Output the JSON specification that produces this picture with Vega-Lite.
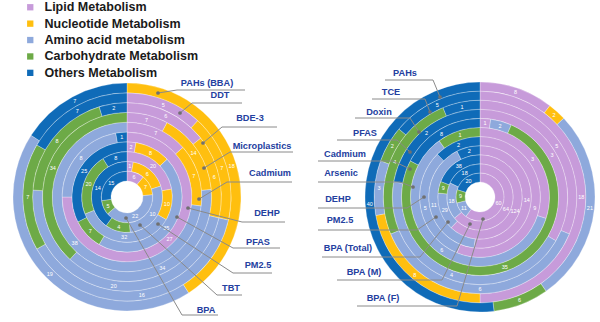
{
  "$schema": "https://vega.github.io/schema/vega-lite/v6.json",
  "width": 600,
  "height": 322,
  "padding": 0,
  "autosize": {"type": "none"},
  "background": "white",
  "config": {"view": {"stroke": null}, "font": "Liberation Sans"},
  "datasets": {
    "rings": [
      {"chart": "L", "ring": 1, "chem": "BPA", "cat": "Lipid Metabolism", "value": 6},
      {"chart": "L", "ring": 1, "chem": "BPA", "cat": "Nucleotide Metabolism", "value": 7},
      {"chart": "L", "ring": 1, "chem": "BPA", "cat": "Amino acid metabolism", "value": 22},
      {"chart": "L", "ring": 1, "chem": "BPA", "cat": "Carbohydrate Metabolism", "value": 5},
      {"chart": "L", "ring": 1, "chem": "BPA", "cat": "Others Metabolism", "value": 15},
      {"chart": "L", "ring": 2, "chem": "TBT", "cat": "Lipid Metabolism", "value": 1},
      {"chart": "L", "ring": 2, "chem": "TBT", "cat": "Nucleotide Metabolism", "value": 6},
      {"chart": "L", "ring": 2, "chem": "TBT", "cat": "Amino acid metabolism", "value": 10},
      {"chart": "L", "ring": 2, "chem": "TBT", "cat": "Carbohydrate Metabolism", "value": 4},
      {"chart": "L", "ring": 2, "chem": "TBT", "cat": "Others Metabolism", "value": 14},
      {"chart": "L", "ring": 3, "chem": "PM2.5", "cat": "Lipid Metabolism", "value": 20},
      {"chart": "L", "ring": 3, "chem": "PM2.5", "cat": "Nucleotide Metabolism", "value": 10},
      {"chart": "L", "ring": 3, "chem": "PM2.5", "cat": "Amino acid metabolism", "value": 32},
      {"chart": "L", "ring": 3, "chem": "PM2.5", "cat": "Carbohydrate Metabolism", "value": 20},
      {"chart": "L", "ring": 3, "chem": "PM2.5", "cat": "Others Metabolism", "value": 8},
      {"chart": "L", "ring": 4, "chem": "PFAS", "cat": "Lipid Metabolism", "value": 2},
      {"chart": "L", "ring": 4, "chem": "PFAS", "cat": "Nucleotide Metabolism", "value": 8},
      {"chart": "L", "ring": 4, "chem": "PFAS", "cat": "Amino acid metabolism", "value": 35},
      {"chart": "L", "ring": 4, "chem": "PFAS", "cat": "Carbohydrate Metabolism", "value": 7},
      {"chart": "L", "ring": 4, "chem": "PFAS", "cat": "Others Metabolism", "value": 25},
      {"chart": "L", "ring": 5, "chem": "DEHP", "cat": "Lipid Metabolism", "value": 27},
      {"chart": "L", "ring": 5, "chem": "DEHP", "cat": "Amino acid metabolism", "value": 8},
      {"chart": "L", "ring": 5, "chem": "DEHP", "cat": "Others Metabolism", "value": 1},
      {"chart": "L", "ring": 6, "chem": "Cadmium", "cat": "Lipid Metabolism", "value": 7},
      {"chart": "L", "ring": 6, "chem": "Cadmium", "cat": "Nucleotide Metabolism", "value": 7},
      {"chart": "L", "ring": 6, "chem": "Cadmium", "cat": "Amino acid metabolism", "value": 38},
      {"chart": "L", "ring": 7, "chem": "Microplastics", "cat": "Lipid Metabolism", "value": 7},
      {"chart": "L", "ring": 7, "chem": "Microplastics", "cat": "Nucleotide Metabolism", "value": 14},
      {"chart": "L", "ring": 7, "chem": "Microplastics", "cat": "Amino acid metabolism", "value": 34},
      {"chart": "L", "ring": 7, "chem": "Microplastics", "cat": "Carbohydrate Metabolism", "value": 34},
      {"chart": "L", "ring": 8, "chem": "BDE-3", "cat": "Lipid Metabolism", "value": 6},
      {"chart": "L", "ring": 8, "chem": "BDE-3", "cat": "Nucleotide Metabolism", "value": 6},
      {"chart": "L", "ring": 8, "chem": "BDE-3", "cat": "Amino acid metabolism", "value": 20},
      {"chart": "L", "ring": 8, "chem": "BDE-3", "cat": "Carbohydrate Metabolism", "value": 8},
      {"chart": "L", "ring": 8, "chem": "BDE-3", "cat": "Others Metabolism", "value": 2},
      {"chart": "L", "ring": 9, "chem": "DDT", "cat": "Lipid Metabolism", "value": 5},
      {"chart": "L", "ring": 9, "chem": "DDT", "cat": "Nucleotide Metabolism", "value": 7},
      {"chart": "L", "ring": 9, "chem": "DDT", "cat": "Amino acid metabolism", "value": 16},
      {"chart": "L", "ring": 9, "chem": "DDT", "cat": "Carbohydrate Metabolism", "value": 7},
      {"chart": "L", "ring": 9, "chem": "DDT", "cat": "Others Metabolism", "value": 7},
      {"chart": "L", "ring": 10, "chem": "PAHs (BBA)", "cat": "Nucleotide Metabolism", "value": 18},
      {"chart": "L", "ring": 10, "chem": "PAHs (BBA)", "cat": "Amino acid metabolism", "value": 19},
      {"chart": "L", "ring": 10, "chem": "PAHs (BBA)", "cat": "Others Metabolism", "value": 7},
      {"chart": "R", "ring": 1, "chem": "BPA (F)", "cat": "Lipid Metabolism", "value": 60},
      {"chart": "R", "ring": 1, "chem": "BPA (F)", "cat": "Amino acid metabolism", "value": 11},
      {"chart": "R", "ring": 1, "chem": "BPA (F)", "cat": "Carbohydrate Metabolism", "value": 9},
      {"chart": "R", "ring": 1, "chem": "BPA (F)", "cat": "Others Metabolism", "value": 20},
      {"chart": "R", "ring": 2, "chem": "BPA (M)", "cat": "Lipid Metabolism", "value": 64},
      {"chart": "R", "ring": 2, "chem": "BPA (M)", "cat": "Amino acid metabolism", "value": 18},
      {"chart": "R", "ring": 2, "chem": "BPA (M)", "cat": "Others Metabolism", "value": 18},
      {"chart": "R", "ring": 3, "chem": "BPA (Total)", "cat": "Lipid Metabolism", "value": 124},
      {"chart": "R", "ring": 3, "chem": "BPA (Total)", "cat": "Amino acid metabolism", "value": 29},
      {"chart": "R", "ring": 3, "chem": "BPA (Total)", "cat": "Carbohydrate Metabolism", "value": 9},
      {"chart": "R", "ring": 3, "chem": "BPA (Total)", "cat": "Others Metabolism", "value": 38},
      {"chart": "R", "ring": 4, "chem": "PM2.5", "cat": "Lipid Metabolism", "value": 14},
      {"chart": "R", "ring": 4, "chem": "PM2.5", "cat": "Amino acid metabolism", "value": 11},
      {"chart": "R", "ring": 4, "chem": "PM2.5", "cat": "Others Metabolism", "value": 2},
      {"chart": "R", "ring": 5, "chem": "DEHP", "cat": "Lipid Metabolism", "value": 9},
      {"chart": "R", "ring": 5, "chem": "DEHP", "cat": "Amino acid metabolism", "value": 5},
      {"chart": "R", "ring": 5, "chem": "DEHP", "cat": "Others Metabolism", "value": 2},
      {"chart": "R", "ring": 6, "chem": "Arsenic", "cat": "Lipid Metabolism", "value": 3},
      {"chart": "R", "ring": 6, "chem": "Arsenic", "cat": "Amino acid metabolism", "value": 6},
      {"chart": "R", "ring": 6, "chem": "Arsenic", "cat": "Carbohydrate Metabolism", "value": 1},
      {"chart": "R", "ring": 7, "chem": "Cadmium", "cat": "Lipid Metabolism", "value": 1},
      {"chart": "R", "ring": 7, "chem": "Cadmium", "cat": "Amino acid metabolism", "value": 2},
      {"chart": "R", "ring": 7, "chem": "Cadmium", "cat": "Carbohydrate Metabolism", "value": 35},
      {"chart": "R", "ring": 7, "chem": "Cadmium", "cat": "Others Metabolism", "value": 8},
      {"chart": "R", "ring": 8, "chem": "PFAS", "cat": "Lipid Metabolism", "value": 3},
      {"chart": "R", "ring": 8, "chem": "PFAS", "cat": "Amino acid metabolism", "value": 4},
      {"chart": "R", "ring": 8, "chem": "PFAS", "cat": "Others Metabolism", "value": 2},
      {"chart": "R", "ring": 9, "chem": "Doxin", "cat": "Lipid Metabolism", "value": 5},
      {"chart": "R", "ring": 9, "chem": "Doxin", "cat": "Amino acid metabolism", "value": 6},
      {"chart": "R", "ring": 9, "chem": "Doxin", "cat": "Carbohydrate Metabolism", "value": 4},
      {"chart": "R", "ring": 9, "chem": "Doxin", "cat": "Others Metabolism", "value": 1},
      {"chart": "R", "ring": 10, "chem": "TCE", "cat": "Lipid Metabolism", "value": 18},
      {"chart": "R", "ring": 10, "chem": "TCE", "cat": "Nucleotide Metabolism", "value": 8},
      {"chart": "R", "ring": 10, "chem": "TCE", "cat": "Amino acid metabolism", "value": 3},
      {"chart": "R", "ring": 10, "chem": "TCE", "cat": "Carbohydrate Metabolism", "value": 2},
      {"chart": "R", "ring": 10, "chem": "TCE", "cat": "Others Metabolism", "value": 5},
      {"chart": "R", "ring": 11, "chem": "PAHs", "cat": "Lipid Metabolism", "value": 8},
      {"chart": "R", "ring": 11, "chem": "PAHs", "cat": "Nucleotide Metabolism", "value": 2},
      {"chart": "R", "ring": 11, "chem": "PAHs", "cat": "Amino acid metabolism", "value": 21},
      {"chart": "R", "ring": 11, "chem": "PAHs", "cat": "Carbohydrate Metabolism", "value": 6},
      {"chart": "R", "ring": 11, "chem": "PAHs", "cat": "Others Metabolism", "value": 40}
    ],
    "ann": [
      {"chart": "L", "name": "PAHs (BBA)", "tx": 80, "ty": 114, "uy": 107, "ux1": 50, "ux2": 118, "dx": 31, "dy": 104},
      {"chart": "L", "name": "DDT", "tx": 93, "ty": 102, "uy": 94, "ux1": 65, "ux2": 115, "dx": 53, "dy": 84},
      {"chart": "L", "name": "BDE-3", "tx": 123, "ty": 79, "uy": 70, "ux1": 95, "ux2": 150, "dx": 76, "dy": 54},
      {"chart": "L", "name": "Microplastics", "tx": 135, "ty": 51, "uy": 45, "ux1": 103, "ux2": 166, "dx": 77, "dy": 29},
      {"chart": "L", "name": "Cadmium", "tx": 143, "ty": 24, "uy": 15, "ux1": 100, "ux2": 165, "dx": 72, "dy": -2},
      {"chart": "L", "name": "DEHP", "tx": 140, "ty": -16, "uy": -25, "ux1": 115, "ux2": 158, "dx": 61, "dy": -11},
      {"chart": "L", "name": "PFAS", "tx": 131, "ty": -45, "uy": -51, "ux1": 106, "ux2": 153, "dx": 50, "dy": -20},
      {"chart": "L", "name": "PM2.5", "tx": 131, "ty": -68, "uy": -76, "ux1": 106, "ux2": 145, "dx": 31, "dy": -27},
      {"chart": "L", "name": "TBT", "tx": 104, "ty": -91, "uy": -98, "ux1": 90, "ux2": 115, "dx": 13, "dy": -28},
      {"chart": "L", "name": "BPA", "tx": 79, "ty": -113, "uy": -118, "ux1": 55, "ux2": 91, "dx": -1, "dy": -21},
      {"chart": "R", "name": "PAHs", "tx": 278, "ty": 124, "uy": 117, "ux1": 258, "ux2": 306, "dx": 313, "dy": 100},
      {"chart": "R", "name": "TCE", "tx": 264, "ty": 105, "uy": 98, "ux1": 245, "ux2": 298, "dx": 303, "dy": 85},
      {"chart": "R", "name": "Doxin", "tx": 252, "ty": 85, "uy": 79, "ux1": 228, "ux2": 283, "dx": 292, "dy": 65},
      {"chart": "R", "name": "PFAS", "tx": 238, "ty": 64, "uy": 57, "ux1": 210, "ux2": 270, "dx": 283, "dy": 45},
      {"chart": "R", "name": "Cadmium", "tx": 218, "ty": 43, "uy": 36, "ux1": 191, "ux2": 266, "dx": 283, "dy": 28},
      {"chart": "R", "name": "Arsenic", "tx": 214, "ty": 24, "uy": 15, "ux1": 191, "ux2": 273, "dx": 286, "dy": 10},
      {"chart": "R", "name": "DEHP", "tx": 211, "ty": -2, "uy": -11, "ux1": 191, "ux2": 280, "dx": 297, "dy": 0},
      {"chart": "R", "name": "PM2.5", "tx": 213, "ty": -23, "uy": -33, "ux1": 191, "ux2": 290, "dx": 309, "dy": -20},
      {"chart": "R", "name": "BPA (Total)", "tx": 221, "ty": -51, "uy": -60, "ux1": 195, "ux2": 293, "dx": 321, "dy": -25},
      {"chart": "R", "name": "BPA (M)", "tx": 237, "ty": -75, "uy": -83, "ux1": 210, "ux2": 315, "dx": 343, "dy": -27},
      {"chart": "R", "name": "BPA (F)", "tx": 256, "ty": -101, "uy": -109, "ux1": 230, "ux2": 330, "dx": 356, "dy": -22}
    ]
  },
  "resolve": {"scale": {"radius": "independent", "theta": "independent"}},
  "layer": [
    {
      "data": {"name": "rings"},
      "transform": [
        {"filter": "datum.chart == 'L'"},
        {"calculate": "indexof(['Lipid Metabolism','Nucleotide Metabolism','Amino acid metabolism','Carbohydrate Metabolism','Others Metabolism'], datum.cat)", "as": "ord"},
        {"stack": "value", "groupby": ["ring"], "sort": [{"field": "ord", "order": "ascending"}], "offset": "normalize", "as": ["t0", "t1"]},
        {"calculate": "datum.ring - 1", "as": "r0"}
      ],
      "mark": {"type": "arc", "stroke": "white", "strokeWidth": 0.35, "strokeOpacity": 0.8},
      "encoding": {
        "x": {"datum": 0, "type": "quantitative", "scale": {"domain": [-127, 473], "nice": false, "zero": false}, "axis": null},
        "y": {"datum": 0, "type": "quantitative", "scale": {"domain": [-125, 197], "nice": false, "zero": false}, "axis": null},
        "theta": {"field": "t0", "type": "quantitative", "stack": null, "scale": {"domain": [0, 1], "range": [0, 6.283185307179586]}},
        "theta2": {"field": "t1"},
        "radius": {"field": "ring", "type": "quantitative", "scale": {"type": "linear", "domain": [0, 10], "range": [16, 114], "zero": false, "nice": false}},
        "radius2": {"field": "r0"},
        "color": {
          "field": "cat", "type": "nominal",
          "scale": {
            "domain": ["Lipid Metabolism", "Nucleotide Metabolism", "Amino acid metabolism", "Carbohydrate Metabolism", "Others Metabolism"],
            "range": ["#C79BDA", "#FFBF0F", "#8EA9DC", "#6DAA47", "#0F6BB8"]
          },
          "legend": {
            "title": null, "orient": "none", "legendX": 24, "legendY": 1, "padding": 0,
            "symbolType": "square", "symbolSize": 40, "symbolStrokeWidth": 0,
            "labelFont": "Liberation Sans", "labelFontSize": 12.5, "labelFontWeight": "bold",
            "labelColor": "#1a1a1a", "rowPadding": 3.4, "labelOffset": 8
          }
        }
      }
    },
    {
      "data": {"name": "rings"},
      "transform": [
        {"filter": "datum.chart == 'R'"},
        {"calculate": "indexof(['Lipid Metabolism','Nucleotide Metabolism','Amino acid metabolism','Carbohydrate Metabolism','Others Metabolism'], datum.cat)", "as": "ord"},
        {"stack": "value", "groupby": ["ring"], "sort": [{"field": "ord", "order": "ascending"}], "offset": "normalize", "as": ["t0", "t1"]},
        {"calculate": "datum.ring - 1", "as": "r0"}
      ],
      "mark": {"type": "arc", "stroke": "white", "strokeWidth": 0.35, "strokeOpacity": 0.8},
      "encoding": {
        "x": {"datum": 353, "type": "quantitative", "scale": {"domain": [-127, 473], "nice": false, "zero": false}, "axis": null},
        "y": {"datum": 0, "type": "quantitative", "scale": {"domain": [-125, 197], "nice": false, "zero": false}, "axis": null},
        "theta": {"field": "t0", "type": "quantitative", "stack": null, "scale": {"domain": [0, 1], "range": [0, 6.283185307179586]}},
        "theta2": {"field": "t1"},
        "radius": {"field": "ring", "type": "quantitative", "scale": {"type": "linear", "domain": [0, 11], "range": [15, 115], "zero": false, "nice": false}},
        "radius2": {"field": "r0"},
        "color": {"field": "cat", "type": "nominal"}
      }
    },
    {
      "data": {"name": "rings"},
      "transform": [
        {"filter": "datum.chart == 'L'"},
        {"calculate": "indexof(['Lipid Metabolism','Nucleotide Metabolism','Amino acid metabolism','Carbohydrate Metabolism','Others Metabolism'], datum.cat)", "as": "ord"},
        {"stack": "value", "groupby": ["ring"], "sort": [{"field": "ord", "order": "ascending"}], "offset": "normalize", "as": ["t0", "t1"]},
        {"calculate": "(datum.t0 + datum.t1) / 2", "as": "tm"},
        {"calculate": "datum.ring - 0.5", "as": "rm"}
      ],
      "mark": {"type": "text", "color": "white", "fontSize": 5.5, "align": "center", "baseline": "middle"},
      "encoding": {
        "x": {"datum": 0, "type": "quantitative", "scale": {"domain": [-127, 473], "nice": false, "zero": false}, "axis": null},
        "y": {"datum": 0, "type": "quantitative", "scale": {"domain": [-125, 197], "nice": false, "zero": false}, "axis": null},
        "theta": {"field": "tm", "type": "quantitative", "scale": {"domain": [0, 1], "range": [0, 6.283185307179586]}},
        "radius": {"field": "rm", "type": "quantitative", "scale": {"type": "linear", "domain": [0, 10], "range": [16, 114], "zero": false, "nice": false}},
        "text": {"field": "value", "type": "quantitative"}
      }
    },
    {
      "data": {"name": "rings"},
      "transform": [
        {"filter": "datum.chart == 'R'"},
        {"calculate": "indexof(['Lipid Metabolism','Nucleotide Metabolism','Amino acid metabolism','Carbohydrate Metabolism','Others Metabolism'], datum.cat)", "as": "ord"},
        {"stack": "value", "groupby": ["ring"], "sort": [{"field": "ord", "order": "ascending"}], "offset": "normalize", "as": ["t0", "t1"]},
        {"calculate": "(datum.t0 + datum.t1) / 2", "as": "tm"},
        {"calculate": "datum.ring - 0.5", "as": "rm"}
      ],
      "mark": {"type": "text", "color": "white", "fontSize": 5.5, "align": "center", "baseline": "middle"},
      "encoding": {
        "x": {"datum": 353, "type": "quantitative", "scale": {"domain": [-127, 473], "nice": false, "zero": false}, "axis": null},
        "y": {"datum": 0, "type": "quantitative", "scale": {"domain": [-125, 197], "nice": false, "zero": false}, "axis": null},
        "theta": {"field": "tm", "type": "quantitative", "scale": {"domain": [0, 1], "range": [0, 6.283185307179586]}},
        "radius": {"field": "rm", "type": "quantitative", "scale": {"type": "linear", "domain": [0, 11], "range": [15, 115], "zero": false, "nice": false}},
        "text": {"field": "value", "type": "quantitative"}
      }
    },
    {
      "data": {"name": "ann"},
      "transform": [{"calculate": "datum.chart == 'L' ? datum.ux1 : datum.ux2", "as": "ex"}],
      "mark": {"type": "rule", "color": "#8a8a8a", "strokeWidth": 1},
      "encoding": {
        "x": {"field": "dx", "type": "quantitative", "scale": {"domain": [-127, 473], "nice": false, "zero": false}, "axis": null},
        "y": {"field": "dy", "type": "quantitative", "scale": {"domain": [-125, 197], "nice": false, "zero": false}, "axis": null},
        "x2": {"field": "ex"},
        "y2": {"field": "uy"}
      }
    },
    {
      "data": {"name": "ann"},
      "mark": {"type": "rule", "color": "#8a8a8a", "strokeWidth": 1},
      "encoding": {
        "x": {"field": "ux1", "type": "quantitative", "scale": {"domain": [-127, 473], "nice": false, "zero": false}, "axis": null},
        "x2": {"field": "ux2"},
        "y": {"field": "uy", "type": "quantitative", "scale": {"domain": [-125, 197], "nice": false, "zero": false}, "axis": null}
      }
    },
    {
      "data": {"name": "ann"},
      "mark": {"type": "point", "filled": true, "color": "#707070", "size": 14, "opacity": 1},
      "encoding": {
        "x": {"field": "dx", "type": "quantitative", "scale": {"domain": [-127, 473], "nice": false, "zero": false}, "axis": null},
        "y": {"field": "dy", "type": "quantitative", "scale": {"domain": [-125, 197], "nice": false, "zero": false}, "axis": null}
      }
    },
    {
      "data": {"name": "ann"},
      "mark": {"type": "text", "font": "Liberation Sans", "fontWeight": "bold", "fontSize": 9.2, "color": "#2440A0", "align": "center", "baseline": "middle"},
      "encoding": {
        "x": {"field": "tx", "type": "quantitative", "scale": {"domain": [-127, 473], "nice": false, "zero": false}, "axis": null},
        "y": {"field": "ty", "type": "quantitative", "scale": {"domain": [-125, 197], "nice": false, "zero": false}, "axis": null},
        "text": {"field": "name", "type": "nominal"}
      }
    }
  ]
}
